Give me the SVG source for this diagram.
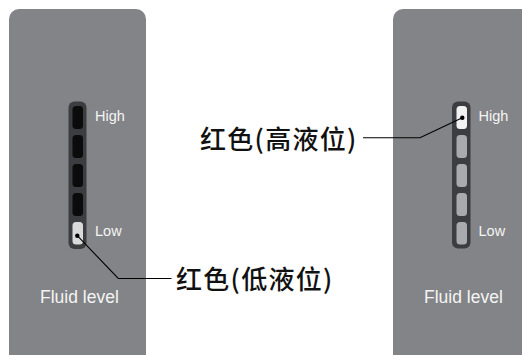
<svg xmlns="http://www.w3.org/2000/svg" width="522" height="355" viewBox="0 0 522 355">
<style>
.panel{fill:#838487}
.bar{fill:#3c3d41}
.segoff{fill:#0b0b0b}
.seggrey{fill:#a9aaad}
.segon{fill:#d9d9d9}
.segwhite{fill:#f2f2f2}
.lbl{font-family:"Liberation Sans",Arial,sans-serif;font-size:14.5px;fill:#f4f4f4}
.title{font-family:"Liberation Sans",Arial,sans-serif;font-size:17.5px;fill:#f4f4f4}
.cn{font-family:"Noto Sans CJK SC",sans-serif;font-size:26px;fill:#111;font-weight:500;letter-spacing:1.3px}
.lead{fill:none;stroke:#000;stroke-width:1.1}
</style>
<rect width="522" height="355" fill="#fff"/>
<g id="panel-low">
<rect class="panel" x="9" y="9" width="137" height="360" rx="10"/>
<rect class="bar" x="68.5" y="101.5" width="18" height="147.5" rx="6"/>
<rect class="segoff" x="72.5" y="106" width="10.5" height="23" rx="3.5"/>
<rect class="segoff" x="72.5" y="135" width="10.5" height="23" rx="3.5"/>
<rect class="segoff" x="72.5" y="164" width="10.5" height="23" rx="3.5"/>
<rect class="segoff" x="72.5" y="193" width="10.5" height="23" rx="3.5"/>
<rect class="segon" x="72.5" y="222" width="10.5" height="22.5" rx="3.5"/>
<text class="lbl" x="95" y="121">High</text>
<text class="lbl" x="95" y="235.5">Low</text>
<text class="title" x="40" y="302.5">Fluid level</text>
</g>
<g id="panel-high">
<rect class="panel" x="393" y="9" width="140" height="360" rx="10"/>
<rect class="bar" x="452" y="101.5" width="18.5" height="147" rx="6"/>
<rect class="segwhite" x="456.5" y="106" width="10.5" height="23" rx="3.5"/>
<rect class="seggrey" x="456.5" y="135" width="10.5" height="23" rx="3.5"/>
<rect class="seggrey" x="456.5" y="164" width="10.5" height="23" rx="3.5"/>
<rect class="seggrey" x="456.5" y="193" width="10.5" height="23" rx="3.5"/>
<rect class="seggrey" x="456.5" y="222" width="10.5" height="22.5" rx="3.5"/>
<text class="lbl" x="478.5" y="121">High</text>
<text class="lbl" x="478.5" y="235.5">Low</text>
<text class="title" x="424" y="302.5">Fluid level</text>
</g>
<g id="connectors">
<polyline class="lead" points="77.3,235.7 118.3,278.5 171.5,278.5"/>
<circle cx="77.3" cy="235.7" r="2.2" fill="#000"/>
<polyline class="lead" points="462.3,117.7 420,137.7 363,137.7"/>
<circle cx="462.3" cy="117.7" r="2.2" fill="#000"/>
</g>
<g id="label-low">
<text class="cn" x="176" y="289">红色(低液位)</text>
</g>
<g id="label-high">
<text class="cn" x="200" y="149">红色(高液位)</text>
</g>
</svg>
